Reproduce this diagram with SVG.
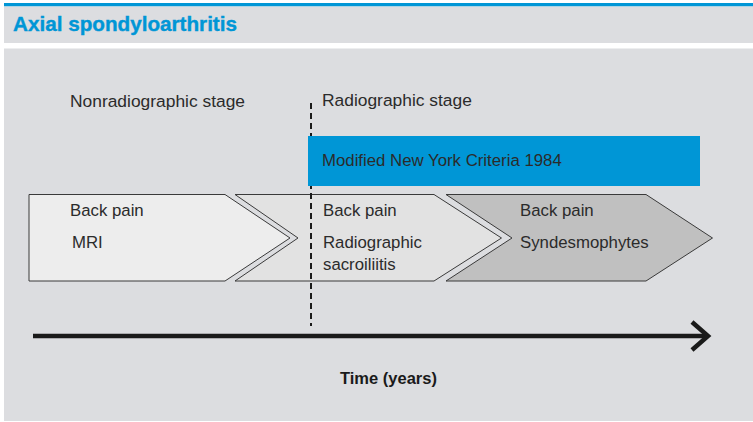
<svg xmlns="http://www.w3.org/2000/svg" width="753" height="422" viewBox="0 0 753 422">
<style>
.t{font-family:"Liberation Sans",Arial,sans-serif;font-size:16.8px;fill:#2b2b2b}
.s{font-size:17.4px}
.chev{stroke:#3a3a3a;stroke-width:1}
</style>
<rect x="0" y="0" width="753" height="422" fill="#ffffff"/>
<rect x="4" y="3" width="749" height="3.5" fill="#0096d6"/>
<rect x="4" y="6.5" width="749" height="36.5" fill="#dcdde0"/>
<text x="13" y="31" font-family="Liberation Sans,Arial,sans-serif" font-weight="bold" font-size="21" fill="#0096d6" stroke="#0096d6" stroke-width="0.4" textLength="224" lengthAdjust="spacingAndGlyphs">Axial spondyloarthritis</text>
<rect x="4" y="48.5" width="749" height="372.5" fill="#dcdde0"/>
<text class="t s" x="70" y="106.5">Nonradiographic stage</text>
<text class="t s" x="322" y="106">Radiographic stage</text>
<g id="stage3">
<polygon class="chev" points="446,194.5 646,194.5 712.5,238 646,281 446,281 512,238" fill="#c0c0c0"/>
<text class="t" x="520" y="216">Back pain</text>
<text class="t" x="520" y="248">Syndesmophytes</text>
</g>
<g id="stage2">
<polygon class="chev" points="235,194.5 434,194.5 501.5,238 434,281 235,281 298,238" fill="#e2e2e2"/>
<text class="t" x="323" y="216">Back pain</text>
<text class="t" x="323" y="248">Radiographic</text>
<text class="t" x="323" y="270">sacroiliitis</text>
</g>
<g id="stage1">
<polygon class="chev" points="29,194.5 225,194.5 290,238 225,281 29,281" fill="#ededed"/>
<text class="t" x="70" y="216">Back pain</text>
<text class="t" x="72" y="248">MRI</text>
</g>
<g id="connectors">
<line x1="311" y1="103" x2="311" y2="326" stroke="#1a1a1a" stroke-width="2" stroke-dasharray="6,4"/>
<line x1="33" y1="336" x2="706" y2="336" stroke="#1a1a1a" stroke-width="4.5"/>
<polyline points="692,322 708,336 692,350" fill="none" stroke="#1a1a1a" stroke-width="4.5"/>
</g>
<g id="criteria">
<rect x="308" y="136" width="392" height="50" fill="#0096d6"/>
<text class="t" x="322" y="166" fill="#1f2a33">Modified New York Criteria 1984</text>
</g>
<text x="340" y="384" font-family="Liberation Sans,Arial,sans-serif" font-weight="bold" font-size="16.5" fill="#1a1a1a">Time (years)</text>
</svg>
